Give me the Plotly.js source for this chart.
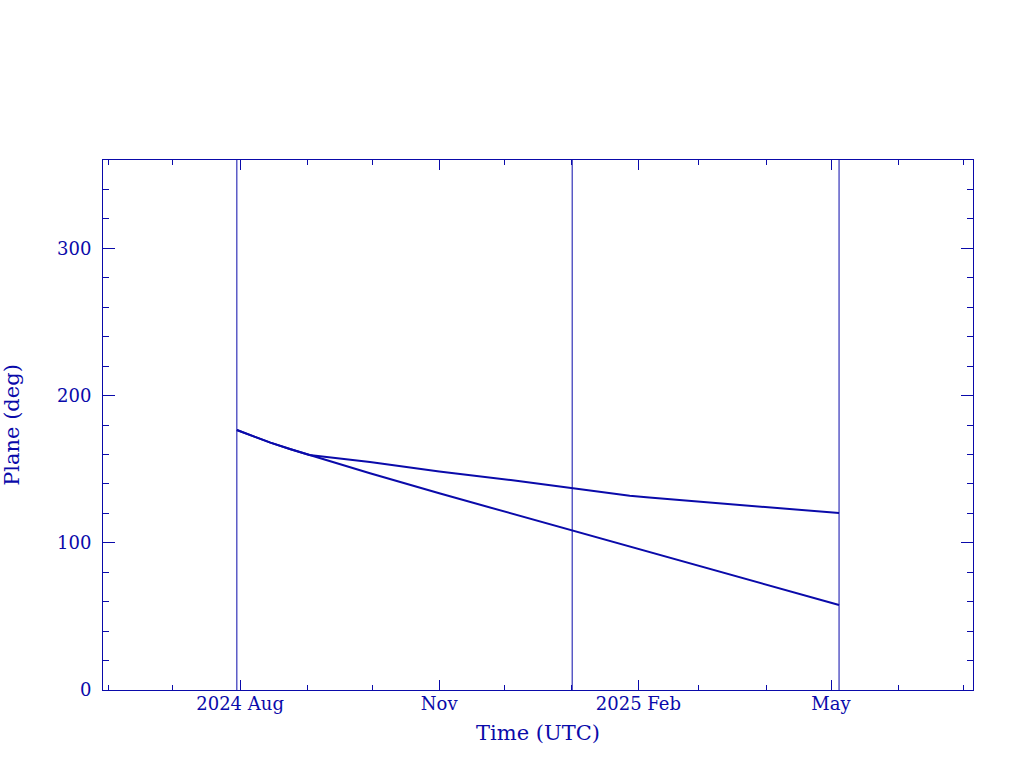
<!DOCTYPE html>
<html>
<head>
<meta charset="utf-8">
<script src="https://cdn.plot.ly/plotly-3.0.1.min.js"></script>
<style>html,body{margin:0;padding:0;background:#fff;}#chart{width:1024px;height:768px;}</style>
</head>
<body>
<div id="chart"></div>
<script>
// Data
const lowerDates = ['2024-07-30 12:00','2024-08-07','2024-08-15','2024-08-24','2024-09-02','2024-09-30','2024-11-01','2024-12-04','2025-01-01 10:00','2025-01-28','2025-02-06','2025-03-20','2025-05-04 17:00'];
const lowerPlane = [176.6,172.2,168.0,163.7,159.6,147.2,133.6,120.0,108.0,97.1,93.5,76.3,57.7];

const upperDates = ['2024-07-30 12:00','2024-08-07','2024-08-15','2024-08-24','2024-09-02','2024-09-30','2024-11-01','2024-12-04','2025-01-01 10:00','2025-01-28','2025-02-06','2025-03-20','2025-05-04 17:00'];
const upperPlane = [176.6,172.2,168.0,163.7,159.6,154.9,148.4,142.6,137.0,132.0,130.7,125.9,120.2];

const markerDates = ['2024-07-30 12:00','2025-01-01 10:00','2025-05-04 17:00'];
const markerSpan = [0, 360];

const majorTickDates = ['2024-08-01','2024-11-01','2025-02-01','2025-05-01'];
const majorTickLabels = ['2024 Aug','Nov','2025 Feb','May'];
const minorTickDates = ['2024-06-01','2024-07-01','2024-08-01','2024-09-01','2024-10-01','2024-11-01','2024-12-01','2025-01-01','2025-02-01','2025-03-01','2025-04-01','2025-05-01','2025-06-01','2025-07-01'];
const yTickVals = [0,100,200,300];

const C = '#0a0aaa';
const FONT = 'DejaVu Serif, Liberation Serif, serif';

const traces = [];
markerDates.forEach(d => {
  traces.push({x:[d,d], y:markerSpan, mode:'lines', line:{color:C, width:1}, hoverinfo:'skip', showlegend:false});
});
traces.push({x:upperDates, y:upperPlane, mode:'lines', line:{color:C, width:2}, showlegend:false});
traces.push({x:lowerDates, y:lowerPlane, mode:'lines', line:{color:C, width:2}, showlegend:false});

const layout = {
  width:1024, height:768,
  margin:{l:103, r:51, t:160, b:78, pad:0},
  paper_bgcolor:'#fff', plot_bgcolor:'#fff',
  showlegend:false,
  font:{family:FONT, color:C},
  xaxis:{
    type:'date',
    range:['2024-05-29 16:00','2025-07-05 14:00'],
    showline:true, linecolor:C, linewidth:1, mirror:'allticks',
    showgrid:false, zeroline:false,
    ticks:'inside', ticklen:10, tickcolor:C, tickwidth:1,
    tickmode:'array', tickvals:majorTickDates, ticktext:majorTickLabels,
    ticklabelstandoff:-3,
    tickfont:{family:FONT, size:18, color:C},
    minor:{tickmode:'array', tickvals:minorTickDates, ticks:'inside', ticklen:5, tickcolor:C, tickwidth:1, showgrid:false},
    title:{text:'Time (UTC)', font:{family:FONT, size:21, color:C}, standoff:12}
  },
  yaxis:{
    range:[0,360],
    showline:true, linecolor:C, linewidth:1, mirror:'allticks',
    showgrid:false, zeroline:false,
    ticks:'inside', ticklen:12, tickcolor:C, tickwidth:1,
    tickmode:'array', tickvals:yTickVals,
    ticklabelstandoff:7,
    tickfont:{family:FONT, size:18, color:C},
    minor:{dtick:20, tick0:0, ticks:'inside', ticklen:6, tickcolor:C, tickwidth:1, showgrid:false},
    title:{text:'Plane (deg)', font:{family:FONT, size:21, color:C}, standoff:36}
  }
};

Plotly.newPlot('chart', traces, layout, {staticPlot:true, displayModeBar:false});
</script>
</body>
</html>
